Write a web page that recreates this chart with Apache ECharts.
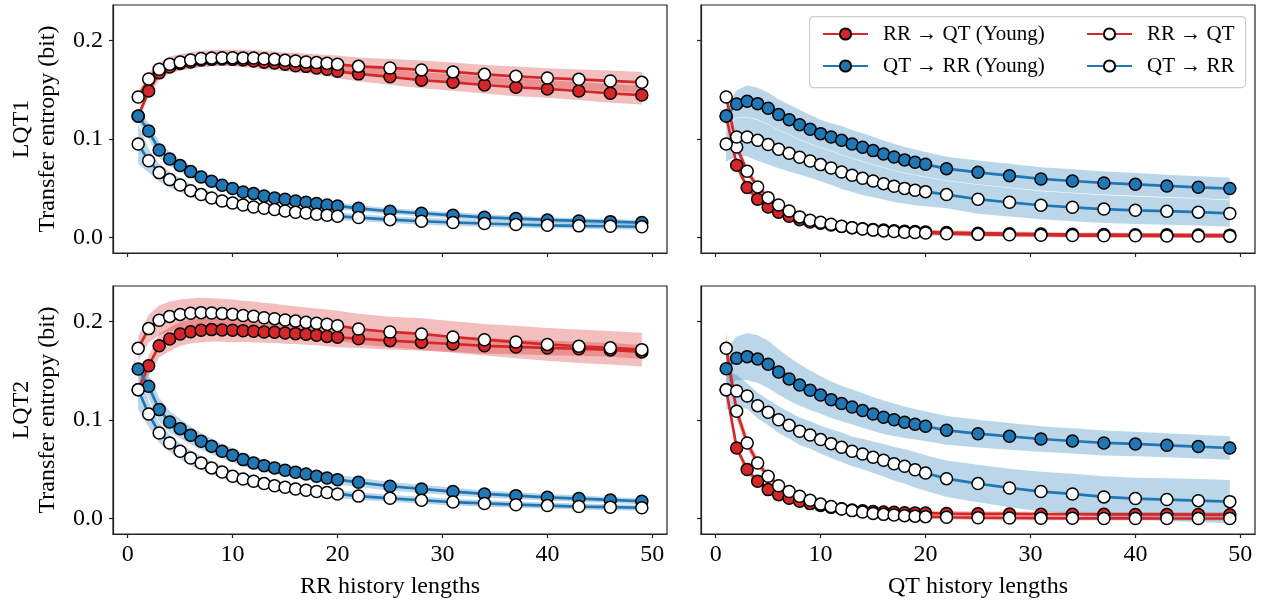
<!DOCTYPE html>
<html>
<head>
<meta charset="utf-8">
<script src="https://cdn.jsdelivr.net/npm/echarts@6/dist/echarts.min.js"></script>
<style>
html,body{margin:0;padding:0;background:#fff;}
#chart{width:1265px;height:607px;}
</style>
</head>
<body>
<div id="chart"></div>
<script>
// ---------------- data ----------------
const xs = [1,2,3,4,5,6,7,8,9,10,11,12,13,14,15,16,17,18,19,20,22,25,28,31,34,37,40,43,46,49];
const xTicks = [0,10,20,30,40,50];
const yTicks = [0, 0.1, 0.2];
const seriesNames = ['RR → QT (Young)', 'QT → RR (Young)', 'RR → QT', 'QT → RR'];
const rowLabels = ['LQT1', 'LQT2'];
const xTitles = ['RR history lengths', 'QT history lengths'];

// LQT1, RR history lengths
const lqt1RR_rrqtYoung = [0.123,0.1486,0.167,0.173,0.1764,0.178,0.180,0.1807,0.181,0.1807,0.180,0.179,0.1777,0.177,0.1757,0.1743,0.1736,0.172,0.1706,0.1686,0.166,0.163,0.1595,0.1574,0.1547,0.1524,0.1507,0.1486,0.1463,0.1445];
const lqt1RR_qtrrYoung = [0.1233,0.108,0.0889,0.0797,0.073,0.0669,0.0615,0.0571,0.053,0.0497,0.0463,0.0446,0.0422,0.0402,0.0389,0.0372,0.0358,0.0345,0.0331,0.0321,0.0297,0.0267,0.0247,0.0226,0.0206,0.0193,0.0179,0.0169,0.0162,0.0152];
const lqt1RR_rrqt = [0.1426,0.1608,0.1706,0.1757,0.178,0.180,0.1815,0.182,0.1824,0.1824,0.1822,0.182,0.1814,0.1807,0.1797,0.179,0.178,0.1774,0.1767,0.1757,0.1736,0.172,0.170,0.168,0.1655,0.1635,0.1618,0.1605,0.1588,0.1574];
const lqt1RR_qtrr = [0.0949,0.078,0.0659,0.0588,0.0534,0.0476,0.0436,0.0402,0.0372,0.0351,0.0331,0.0311,0.0297,0.0284,0.027,0.0257,0.025,0.0236,0.0226,0.0216,0.0203,0.0182,0.0166,0.0153,0.0143,0.0133,0.0125,0.0119,0.0115,0.011];
const lqt1RR_rrqtYoungSd = [0.003,0.006,0.007,0.007,0.007,0.007,0.007,0.007,0.007,0.007,0.007,0.007,0.007,0.007,0.007,0.007,0.007,0.007,0.007,0.007,0.0075,0.008,0.008,0.0085,0.0085,0.009,0.009,0.009,0.0095,0.0095];
const lqt1RR_qtrrYoungSd = [0.006,0.008,0.008,0.007,0.0065,0.006,0.0055,0.005,0.005,0.0045,0.0045,0.004,0.004,0.004,0.004,0.0035,0.0035,0.0035,0.0035,0.0035,0.003,0.003,0.003,0.003,0.003,0.0028,0.0028,0.0026,0.0026,0.0025];
const lqt1RR_rrqtSd = [0.004,0.006,0.007,0.008,0.008,0.008,0.008,0.008,0.008,0.008,0.008,0.008,0.008,0.008,0.008,0.0085,0.0085,0.0085,0.0085,0.009,0.009,0.009,0.0095,0.0095,0.0095,0.01,0.01,0.01,0.0105,0.0105];
const lqt1RR_qtrrSd = [0.02,0.012,0.009,0.008,0.007,0.0065,0.006,0.0055,0.005,0.005,0.0045,0.0045,0.0045,0.0045,0.0045,0.004,0.004,0.004,0.004,0.004,0.0035,0.0035,0.0035,0.0035,0.0032,0.0032,0.003,0.003,0.003,0.003];

// LQT1, QT history lengths
const lqt1QT_rrqtYoung = [0.1233,0.0733,0.0507,0.0389,0.0311,0.0257,0.0216,0.0182,0.0159,0.0145,0.0128,0.0112,0.0100,0.0090,0.0082,0.0076,0.0070,0.0065,0.0061,0.0058,0.0052,0.0045,0.0040,0.0036,0.0033,0.0031,0.0029,0.0028,0.0026,0.0025];
const lqt1QT_qtrrYoung = [0.1233,0.1355,0.1382,0.1358,0.1311,0.1247,0.1196,0.1145,0.1098,0.1054,0.102,0.0986,0.0949,0.0916,0.0882,0.0848,0.0818,0.0788,0.0764,0.0743,0.0699,0.0662,0.0628,0.0595,0.0574,0.0554,0.054,0.0524,0.051,0.0497];
const lqt1QT_rrqt = [0.1426,0.0919,0.0672,0.0514,0.0405,0.0331,0.027,0.021,0.0176,0.0155,0.0135,0.0115,0.0101,0.0088,0.0076,0.0068,0.0061,0.0055,0.0051,0.0047,0.0040,0.0033,0.0028,0.0024,0.0021,0.0019,0.0018,0.0017,0.0016,0.0015];
const lqt1QT_qtrr = [0.0949,0.102,0.102,0.0986,0.0943,0.0895,0.0855,0.0815,0.0777,0.074,0.0706,0.0665,0.0632,0.0601,0.0573,0.0547,0.052,0.0499,0.048,0.0466,0.0436,0.0389,0.0358,0.0328,0.0307,0.0289,0.0277,0.0268,0.0258,0.0245];
const lqt1QT_rrqtYoungSd = [0.003,0.004,0.004,0.004,0.0035,0.003,0.003,0.003,0.003,0.003,0.0025,0.0025,0.0025,0.0025,0.0025,0.0025,0.0025,0.0025,0.0025,0.0025,0.0022,0.0022,0.0022,0.002,0.002,0.002,0.002,0.002,0.002,0.002];
const lqt1QT_qtrrYoungSd = [0.01,0.014,0.016,0.016,0.016,0.0155,0.015,0.015,0.0145,0.014,0.014,0.0145,0.0143,0.0142,0.014,0.0136,0.0134,0.013,0.0128,0.0125,0.012,0.012,0.012,0.0118,0.0118,0.0117,0.0116,0.0113,0.0111,0.011];
const lqt1QT_rrqtSd = [0.004,0.005,0.005,0.004,0.004,0.0035,0.003,0.003,0.003,0.003,0.0025,0.0025,0.0025,0.0025,0.0025,0.0025,0.0025,0.0025,0.0025,0.0025,0.0022,0.0022,0.0022,0.002,0.002,0.002,0.002,0.002,0.002,0.002];
const lqt1QT_qtrrSd = [0.018,0.019,0.0197,0.0207,0.0203,0.0192,0.0186,0.0175,0.0171,0.0169,0.0169,0.0171,0.0169,0.0168,0.0164,0.016,0.0159,0.0154,0.0151,0.0147,0.0138,0.0146,0.0144,0.0142,0.0142,0.0141,0.014,0.0137,0.0135,0.0134];

// LQT2, RR history lengths
const lqt2RR_rrqtYoung = [0.1307,0.155,0.1753,0.182,0.1872,0.1895,0.1909,0.1916,0.1912,0.1909,0.1905,0.1899,0.1892,0.1889,0.1882,0.1875,0.1868,0.1858,0.1847,0.1838,0.1824,0.1804,0.1787,0.177,0.1752,0.174,0.173,0.1722,0.171,0.169];
const lqt2RR_qtrrYoung = [0.1517,0.1341,0.1105,0.098,0.0912,0.0845,0.0784,0.0733,0.0682,0.0642,0.0598,0.0564,0.0537,0.0514,0.049,0.047,0.0453,0.0429,0.0412,0.0395,0.0368,0.0328,0.0301,0.0274,0.025,0.0233,0.0216,0.0203,0.0189,0.0176];
const lqt2RR_rrqt = [0.1726,0.1926,0.201,0.205,0.207,0.2081,0.2088,0.2084,0.2078,0.2071,0.2059,0.2051,0.2037,0.2027,0.2014,0.2002,0.1991,0.198,0.197,0.1956,0.1922,0.1892,0.1872,0.1841,0.1814,0.179,0.1766,0.1747,0.1731,0.1713];
const lqt2RR_qtrr = [0.1307,0.1061,0.0868,0.0767,0.0682,0.0615,0.0564,0.0514,0.0473,0.0429,0.0402,0.0378,0.0355,0.0334,0.0318,0.0301,0.0287,0.0274,0.0264,0.025,0.0228,0.0206,0.0186,0.0168,0.0154,0.0141,0.0132,0.0122,0.0116,0.011];
const lqt2RR_rrqtYoungSd = [0.006,0.01,0.012,0.012,0.012,0.012,0.012,0.012,0.012,0.012,0.0115,0.0115,0.011,0.011,0.011,0.0105,0.0105,0.01,0.01,0.01,0.0095,0.009,0.0085,0.008,0.008,0.0075,0.0075,0.007,0.007,0.007];
const lqt2RR_qtrrYoungSd = [0.006,0.012,0.012,0.011,0.01,0.009,0.0085,0.008,0.0075,0.007,0.0068,0.0065,0.0063,0.006,0.006,0.0057,0.0055,0.0053,0.0052,0.005,0.0047,0.0044,0.0041,0.0038,0.0036,0.0034,0.0033,0.0032,0.0031,0.003];
const lqt2RR_rrqtSd = [0.012,0.014,0.015,0.015,0.015,0.015,0.015,0.015,0.015,0.015,0.015,0.015,0.015,0.015,0.015,0.015,0.015,0.015,0.015,0.015,0.0155,0.0155,0.016,0.016,0.016,0.0165,0.0165,0.017,0.017,0.017];
const lqt2RR_qtrrSd = [0.02,0.013,0.01,0.009,0.008,0.0075,0.007,0.0065,0.006,0.006,0.0055,0.0055,0.005,0.005,0.005,0.0048,0.0046,0.0044,0.0042,0.004,0.0038,0.0036,0.0035,0.0034,0.0033,0.0032,0.0031,0.003,0.003,0.003];

// LQT2, QT history lengths
const lqt2QT_rrqtYoung = [0.1307,0.0716,0.0497,0.0378,0.0294,0.0243,0.0206,0.0176,0.0152,0.0132,0.0114,0.0100,0.0088,0.0080,0.0073,0.0068,0.0064,0.0060,0.0058,0.0056,0.0052,0.0049,0.0047,0.0045,0.0044,0.0043,0.0042,0.0042,0.0041,0.0040];
const lqt2QT_qtrrYoung = [0.152,0.1625,0.1642,0.1618,0.1564,0.1486,0.1416,0.1355,0.1301,0.1253,0.1206,0.1166,0.1132,0.1095,0.1061,0.1027,0.1003,0.0976,0.0957,0.0936,0.0895,0.0861,0.0834,0.0807,0.0787,0.0767,0.0757,0.0743,0.073,0.0716];
const lqt2QT_rrqt = [0.1726,0.1088,0.0767,0.0564,0.0429,0.0334,0.0274,0.0226,0.0186,0.0147,0.0122,0.0098,0.0081,0.0066,0.0053,0.0043,0.0036,0.0030,0.0025,0.0020,0.0014,0.0009,0.0006,0.0004,0.0003,0.0002,0.0002,0.0001,0.0001,0.0001];
const lqt2QT_qtrr = [0.1307,0.1294,0.1243,0.1145,0.1078,0.1003,0.0946,0.0885,0.0848,0.0801,0.076,0.0723,0.0682,0.0655,0.0622,0.0591,0.0557,0.053,0.0495,0.0462,0.0405,0.0355,0.0311,0.0274,0.025,0.022,0.0203,0.0193,0.0182,0.0172];
const lqt2QT_rrqtYoungSd = [0.004,0.004,0.004,0.0035,0.003,0.003,0.003,0.003,0.003,0.003,0.0025,0.0025,0.0025,0.0025,0.0025,0.0025,0.0025,0.0025,0.0025,0.0025,0.0025,0.0025,0.0025,0.0025,0.0025,0.0025,0.0025,0.0025,0.0025,0.0025];
const lqt2QT_qtrrYoungSd = [0.02,0.022,0.024,0.024,0.024,0.023,0.022,0.021,0.02,0.019,0.0185,0.018,0.0178,0.0175,0.0172,0.017,0.0165,0.016,0.0155,0.015,0.0145,0.014,0.0135,0.013,0.0128,0.0126,0.0124,0.0122,0.012,0.012];
const lqt2QT_rrqtSd = [0.016,0.008,0.006,0.005,0.004,0.0035,0.003,0.003,0.003,0.003,0.0025,0.0025,0.0025,0.0025,0.0025,0.0025,0.0025,0.0025,0.0025,0.0025,0.0022,0.0022,0.0022,0.002,0.002,0.002,0.002,0.002,0.002,0.002];
const lqt2QT_qtrrSd = [0.02,0.016,0.013,0.013,0.013,0.0135,0.0135,0.014,0.014,0.014,0.0145,0.015,0.015,0.0155,0.016,0.0165,0.017,0.0175,0.018,0.018,0.0185,0.019,0.0195,0.02,0.0205,0.021,0.021,0.0215,0.022,0.022];

// ---------------- chart ----------------
const RED = '#d62728', BLUE = '#1f77b4';
const FONT = "'Liberation Serif', 'DejaVu Serif', serif";
const panels = [
  {vals:[lqt1RR_rrqtYoung,lqt1RR_qtrrYoung,lqt1RR_rrqt,lqt1RR_qtrr], sds:[lqt1RR_rrqtYoungSd,lqt1RR_qtrrYoungSd,lqt1RR_rrqtSd,lqt1RR_qtrrSd]},
  {vals:[lqt1QT_rrqtYoung,lqt1QT_qtrrYoung,lqt1QT_rrqt,lqt1QT_qtrr], sds:[lqt1QT_rrqtYoungSd,lqt1QT_qtrrYoungSd,lqt1QT_rrqtSd,lqt1QT_qtrrSd]},
  {vals:[lqt2RR_rrqtYoung,lqt2RR_qtrrYoung,lqt2RR_rrqt,lqt2RR_qtrr], sds:[lqt2RR_rrqtYoungSd,lqt2RR_qtrrYoungSd,lqt2RR_rrqtSd,lqt2RR_qtrrSd]},
  {vals:[lqt2QT_rrqtYoung,lqt2QT_qtrrYoung,lqt2QT_rrqt,lqt2QT_qtrr], sds:[lqt2QT_rrqtYoungSd,lqt2QT_qtrrYoungSd,lqt2QT_rrqtSd,lqt2QT_qtrrSd]}
];
const colors = [RED, BLUE, RED, BLUE];
const filled = [true, true, false, false];

const gridPos = [
  {left:113, top:5}, {left:701, top:5}, {left:113, top:286}, {left:701, top:286}
];
const grids = gridPos.map(g => ({left:g.left, top:g.top, width:554, height:248,
  show:true, borderColor:'#222', borderWidth:1.2, backgroundColor:'rgba(0,0,0,0)', containLabel:false}));

const xAxes = gridPos.map((g, i) => ({
  type:'value', gridIndex:i, min:-1.4, max:51.4,
  axisLine:{show:true, onZero:false, lineStyle:{color:'#222', width:1.2}},
  axisTick:{show:true, inside:false, length:4, customValues:xTicks, lineStyle:{color:'#222', width:1.2}},
  axisLabel:{show:i>=2, customValues:xTicks, fontFamily:FONT, fontSize:24, color:'#000', margin:9},
  splitLine:{show:false},
  name: i>=2 ? xTitles[i-2] : '', nameLocation:'middle', nameGap:41,
  nameTextStyle:{fontFamily:FONT, fontSize:24, color:'#000'}
}));
const yAxes = gridPos.map((g, i) => ({
  type:'value', gridIndex:i, min:-0.0156, max:0.2358,
  axisLine:{show:true, onZero:false, lineStyle:{color:'#222', width:1.2}},
  axisTick:{show:true, inside:false, length:4, customValues:yTicks, lineStyle:{color:'#222', width:1.2}},
  axisLabel:{show:i%2===0, customValues:yTicks, fontFamily:FONT, fontSize:24, color:'#000', margin:10,
    formatter: v => v.toFixed(1)},
  splitLine:{show:false},
  name: i%2===0 ? rowLabels[i/2] + '\nTransfer entropy (bit)' : '',
  nameLocation:'middle', nameRotate:90, nameGap:52,
  nameTextStyle:{fontFamily:FONT, fontSize:24, lineHeight:26, color:'#000'}
}));

const series = [];
panels.forEach((p, pi) => {
  // shaded bands first
  p.vals.forEach((vals, si) => {
    const sd = p.sds[si];
    series.push({
      type:'custom', xAxisIndex:pi, yAxisIndex:pi, silent:true, z:1, animation:false, clip:true,
      data:[[xs[0], vals[0]]],
      renderItem: function(params, api) {
        const up = xs.map((x, k) => api.coord([x, vals[k] + sd[k]]));
        const lo = xs.map((x, k) => api.coord([x, vals[k] - sd[k]])).reverse();
        return {type:'polygon', shape:{points: up.concat(lo)}, style:{fill: colors[si], opacity:0.3}};
      }
    });
  });
  p.vals.forEach((vals, si) => {
    series.push({
      type:'line', name:seriesNames[si], xAxisIndex:pi, yAxisIndex:pi, z:3, animation:false,
      data: xs.map((x, k) => [x, vals[k]]),
      symbol:'circle', symbolSize:12, showSymbol:true,
      lineStyle:{color:colors[si], width:2.7},
      itemStyle:{color: filled[si] ? colors[si] : '#ffffff', borderColor:'#000', borderWidth:1.5},
      emphasis:{disabled:true}
    });
  });
});

const legendCommon = {
  orient:'vertical', itemWidth:45, itemHeight:14, itemGap:10, top:18,
  textStyle:{fontFamily:FONT, fontSize:21, color:'#000', lineHeight:22, padding:[0,0,0,10]},
  selectedMode:false
};

const option = {
  backgroundColor:'#fff',
  animation:false,
  grid: grids,
  xAxis: xAxes,
  yAxis: yAxes,
  legend: [
    Object.assign({}, legendCommon, {left:817, data:[seriesNames[0], seriesNames[1]]}),
    Object.assign({}, legendCommon, {left:1081, data:[seriesNames[2], seriesNames[3]]})
  ],
  graphic: [{
    type:'rect', z:3, left:809, top:16,
    shape:{width:436, height:71, r:4},
    style:{fill:'rgba(255,255,255,0.85)', stroke:'#cccccc', lineWidth:1.2}
  }],
  series: series
};

const chart = echarts.init(document.getElementById('chart'), null, {renderer:'canvas'});
chart.setOption(option);
</script>
</body>
</html>
